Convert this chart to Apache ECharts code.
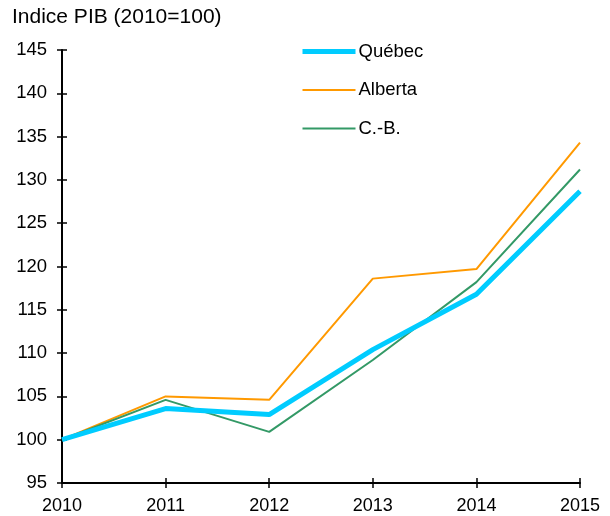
<!DOCTYPE html>
<html><head><meta charset="utf-8">
<script src="https://cdn.jsdelivr.net/npm/echarts@6/dist/echarts.min.js"></script>
<style>html,body{margin:0;padding:0;background:#fff}#c{width:610px;height:516px}</style>
</head><body><div id="c"></div>
<script>
const years = ['2010','2011','2012','2013','2014','2015'];
const quebec = [100, 103.6, 102.9, 110.4, 116.8, 128.7];
const alberta = [100, 105.0, 104.6, 118.6, 119.7, 134.3];
const cb = [100, 104.6, 100.9, 109.2, 118.2, 131.2];
const seriesNames = ['Québec', 'Alberta', 'C.-B.'];
const yTitle = 'Indice PIB (2010=100)';

const colors = ['#00CCFF', '#FF9900', '#339966'];
const widths = [5, 2, 2];
const font = 'Liberation Sans, Arial, sans-serif';
const chart = echarts.init(document.getElementById('c'), null, {renderer: 'canvas'});
chart.setOption({
  animation: false,
  title: {text: yTitle, left: 7, top: 2, textStyle: {fontFamily: font, fontSize: 21, fontWeight: 'normal', color: '#000'}},
  legend: {
    orient: 'vertical', left: 300, top: 42, padding: 0, itemWidth: 53, itemHeight: 14, itemGap: 19.5,
    itemStyle: {opacity: 0},
    data: seriesNames.map((n, i) => ({name: n, lineStyle: {width: widths[i], color: colors[i]}})),
    textStyle: {fontFamily: font, fontSize: 18.5, color: '#000', padding: [0, 0, 0, -2]}
  },
  grid: {left: 62, right: 30, top: 50, bottom: 33},
  xAxis: [
    {type: 'category', data: years, boundaryGap: false,
     axisLine: {lineStyle: {color: '#000', width: 2}},
     axisTick: {length: 5, lineStyle: {color: '#000', width: 1.5}},
     axisLabel: {color: '#000', fontFamily: font, fontSize: 18, margin: 14}},
    {type: 'category', data: years, boundaryGap: false, position: 'bottom',
     axisLine: {show: false}, axisTick: {inside: true, length: 5, lineStyle: {color: '#000', width: 1.5}},
     axisLabel: {show: false}}
  ],
  yAxis: [
    {type: 'value', min: 95, max: 145, interval: 5,
     axisLine: {show: true, lineStyle: {color: '#000', width: 2}},
     axisTick: {show: true, length: 5, lineStyle: {color: '#000', width: 1.5}},
     splitLine: {show: false},
     axisLabel: {color: '#000', fontFamily: font, fontSize: 18.5, margin: 15}},
    {type: 'value', min: 95, max: 145, interval: 5, position: 'left',
     axisLine: {show: false}, splitLine: {show: false},
     axisTick: {show: true, inside: true, length: 5, lineStyle: {color: '#000', width: 1.5}},
     axisLabel: {show: false}}
  ],
  series: [
    {name: seriesNames[0], type: 'line', data: quebec, symbol: 'none', z: 5,
     lineStyle: {color: colors[0], width: widths[0]}, itemStyle: {color: colors[0]}},
    {name: seriesNames[1], type: 'line', data: alberta, symbol: 'none', z: 3,
     lineStyle: {color: colors[1], width: widths[1]}, itemStyle: {color: colors[1]}},
    {name: seriesNames[2], type: 'line', data: cb, symbol: 'none', z: 4,
     lineStyle: {color: colors[2], width: widths[2]}, itemStyle: {color: colors[2]}}
  ]
});
</script></body></html>
